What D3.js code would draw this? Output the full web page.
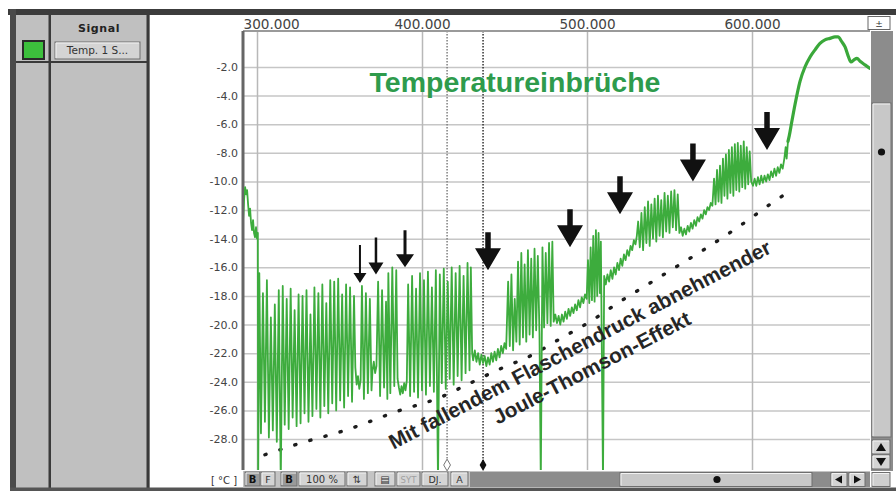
<!DOCTYPE html>
<html>
<head>
<meta charset="utf-8">
<script src="https://cdn.jsdelivr.net/npm/d3@7"></script>
<style>
  body { margin: 0; background: #fff; }
  svg { display: block; }
</style>
</head>
<body>
<div id="chart"></div>
<script>
// signal: [samples / 1000, temperature in °C]
var startSeg = [[291.6,-12.6],[292.2,-11.2],[292.8,-10.4],[293.4,-10.9],[294.0,-10.6],[294.6,-11.6],[295.2,-12.4],[295.8,-11.9],
    [296.4,-12.9],[297.0,-13.4],[297.6,-12.7],[298.2,-13.6],[298.8,-13.9],[299.4,-13.2],[300.0,-14.0],[300.5,-13.6],[300.7,-31.0]];

var burst1 = [[301.4,-16.4],[302.4,-27.6],[303.6,-17.8],[304.8,-26.8],[306.0,-16.9],[307.2,-27.9],[308.4,-19.5],[309.6,-27.4],
    [310.8,-18.6],[312.0,-28.2],[313.2,-17.6],[314.4,-31.0],[315.6,-17.3],[316.8,-27.0],[318.0,-18.2],[319.2,-27.3],[320.4,-17.5],
    [321.6,-26.5],[322.8,-19.0],[324.0,-27.1],[325.2,-17.9],[326.4,-26.9],[327.6,-18.0],[328.8,-26.2],[330.0,-17.6],[331.2,-26.8],
    [332.4,-19.3],[333.6,-26.4],[334.8,-17.4],[336.0,-25.9],[337.2,-17.8],[338.4,-26.5],[339.6,-17.2],[340.8,-25.7],[342.0,-18.5],
    [343.2,-26.2],[344.4,-16.9],[345.6,-25.5],[346.8,-17.0],[348.0,-26.0],[349.2,-16.8],[350.4,-25.3],[351.6,-17.9],[352.8,-25.8],
    [354.0,-17.2],[355.2,-25.0],[356.4,-17.4],[357.6,-25.4],[358.8,-18.0],
    [359.6,-23.0],[360.4,-24.2],[361.2,-23.6],[362.0,-24.5],[362.8,-23.9],
    [363.6,-17.3],[364.8,-25.2],[366.0,-17.8],[367.2,-24.8],[368.4,-18.2],[369.4,-24.6],
    [370.0,-23.2],[370.8,-22.6],[371.6,-23.4],[372.4,-22.9],
    [373.4,-17.0],[374.6,-25.0],[375.8,-17.6],[377.0,-24.4],[378.2,-18.4],[379.0,-25.2],[379.6,-16.4],[380.8,-24.8],[382.0,-16.0],
    [383.2,-24.3],[384.4,-16.2],[385.2,-23.8],
    [386.0,-24.4],[386.8,-24.9],[387.6,-24.3],[388.4,-24.8],[389.2,-24.1],[390.0,-24.6],[390.8,-23.9]];

var burst1d = [[391.6,-17.2],[392.8,-25.0],[394.0,-16.6],[395.2,-24.7],[396.4,-17.5],[397.6,-25.1],[398.8,-16.4],[400.0,-24.6],
    [401.2,-16.9],[402.4,-24.9],[403.6,-16.3],[404.8,-24.3],[406.0,-17.4],[407.2,-24.7],[408.4,-16.2],[409.7,-31.0],[410.8,-16.5],
    [412.0,-24.1],[413.2,-16.1],[414.4,-24.5],[415.6,-17.0],[416.8,-23.8],[418.0,-16.0],[419.2,-24.2],[420.4,-16.4],[421.6,-23.6],
    [422.8,-15.9],[424.0,-23.9],[425.2,-16.6],[426.4,-23.4],[427.6,-15.7],[428.8,-23.2],[429.6,-16.0]];

var smoothC = [[430.4,-22.0],[431.0,-22.5],[432.0,-21.8],[433.0,-22.6],[434.0,-22.0],[435.0,-22.8],[436.0,-22.1],[437.0,-22.7],
    [438.0,-22.2],[439.0,-22.9],[440.0,-22.3],[441.0,-22.8],[442.0,-22.0],[443.0,-22.6],[444.0,-21.9],[445.0,-22.5],[446.0,-21.7],
    [447.0,-22.3],[448.0,-21.5],[449.0,-22.0],[450.0,-21.3],[451.0,-21.7]];

var burst2 = [[452.2,-17.0],[453.2,-21.5],[454.2,-16.5],[455.2,-21.8],[456.2,-18.2],[457.2,-21.2],[458.2,-15.6],[459.2,-21.4],
    [460.2,-15.0],[461.2,-20.9],[462.2,-15.8],[463.2,-21.2],[464.2,-14.8],[465.2,-20.7],[466.2,-15.4],[467.2,-20.9],[468.2,-14.7],
    [469.2,-20.4],[470.2,-15.2],[471.2,-20.6],[472.0,-31.0],[473.0,-14.6],[474.0,-20.2],[475.0,-15.0],[476.0,-19.9],[477.0,-14.3],
    [478.0,-20.1],[479.0,-14.2],[479.8,-19.8]];

var smoothD = [[480.8,-19.3],[481.8,-19.9],[482.8,-19.4],[483.8,-20.0],[484.8,-19.3],[485.8,-19.8],[486.8,-19.1],[487.8,-19.6],
    [488.8,-18.9],[489.8,-19.4],[490.8,-18.8],[491.8,-19.2],[492.8,-18.6],[493.8,-19.0],[494.8,-18.3],[495.8,-18.8],[496.8,-18.1],
    [497.8,-18.5],[498.8,-17.9],[499.8,-18.2]];

var burst3 = [[500.6,-15.5],[501.4,-18.5],[502.2,-14.6],[503.0,-18.3],[503.8,-13.8],[504.6,-18.4],[505.4,-13.4],[506.2,-18.0],
    [507.0,-13.6],[507.8,-17.8],[508.4,-14.2],[509.7,-31.0]];

var smoothE = [[510.4,-16.6],[511.4,-17.2],[512.4,-16.5],[513.4,-17.0],[514.4,-16.2],[515.4,-16.8],[516.4,-16.0],[517.4,-16.5],
    [518.4,-15.7],[519.4,-16.2],[520.4,-15.4],[521.4,-15.9],[522.4,-15.1],[523.4,-15.5],[524.4,-14.8],[525.4,-15.2],[526.4,-14.5],
    [527.4,-14.8],[528.4,-14.1],[529.4,-14.4],[530.2,-13.8]];

var burst4 = [[531.0,-12.8],[532.0,-14.6],[533.0,-12.2],[534.0,-14.8],[535.0,-11.8],[536.0,-14.3],[537.0,-11.4],[538.0,-14.5],
    [539.0,-11.6],[540.0,-14.0],[541.0,-11.2],[542.0,-14.2],[543.0,-11.0],[544.0,-13.8],[545.0,-11.3],[546.0,-13.9],[547.0,-10.8],
    [548.0,-13.5],[549.0,-11.0],[550.0,-13.6],[551.0,-10.7],[552.0,-13.2],[553.0,-10.6],[554.0,-13.4],[555.0,-10.9],[556.0,-13.6]];

var smoothF = [[557.0,-13.2],[558.0,-13.8],[559.0,-13.3],[560.0,-13.7],[561.0,-13.1],[562.0,-13.5],[563.0,-12.9],[564.0,-13.3],
    [565.0,-12.7],[566.0,-13.1],[567.0,-12.5],[568.0,-12.8],[569.0,-12.3],[570.0,-12.6],[571.0,-12.0],[572.0,-12.3],[573.0,-11.8],
    [574.0,-12.0],[575.0,-11.5],[576.0,-11.7]];

var burst5 = [[577.0,-9.8],[577.9,-11.6],[578.8,-9.2],[579.7,-11.4],[580.6,-8.9],[581.5,-11.5],[582.4,-8.4],[583.3,-11.0],
    [584.2,-8.1],[585.1,-11.2],[586.0,-7.8],[586.9,-10.8],[587.8,-7.6],[588.7,-11.0],[589.6,-7.4],[590.5,-10.6],[591.4,-7.3],
    [592.3,-10.7],[593.2,-7.5],[594.1,-10.4],[595.0,-7.2],[595.9,-10.5],[596.8,-7.6],[597.7,-10.2],[598.6,-7.9],[599.5,-10.0]];

var smoothG = [[600.6,-10.3],[601.6,-9.8],[602.6,-10.3],[603.6,-9.7],[604.6,-10.2],[605.6,-9.6],[606.6,-10.1],[607.6,-9.6],
    [608.6,-10.0],[609.6,-9.5],[610.6,-9.9],[611.6,-9.3],[612.6,-9.7],[613.6,-9.1],[614.6,-9.6],[615.6,-9.0],[616.6,-9.4],
    [617.6,-8.8],[618.6,-9.1],[619.6,-8.4],[620.4,-7.6],[621.0,-8.4],[621.8,-7.2]];

var tailSeg = [[621.8,-7.2],[622.6,-6.8],[624.0,-5.9],[626.1,-4.6],[629.1,-3.0],[632.1,-2.0],[635.2,-1.3],[638.2,-0.8],
    [641.2,-0.35],[644.2,-0.1],[647.3,0.0],[650.3,0.1],[652.1,0.1],[654.5,-0.25],[656.4,-0.6],[658.2,-1.2],[660.0,-1.65],
    [661.8,-1.5],[663.6,-1.4],[665.5,-1.6],[668.5,-1.85],[671.5,-2.1]];

// dotted trend line under the signal
var trendX = [304.8, 326.1, 353.3, 386.7, 410.9, 429.1, 447.3, 465.5, 483.6, 501.8, 520.0, 538.2, 556.4, 574.5, 592.7, 610.9, 621.2];
var trendT = [-29.1, -28.3, -27.4, -26.0, -25.1, -24.1, -23.1, -22.2, -21.0, -19.8, -18.4, -17.1, -15.8, -14.5, -13.1, -11.6, -10.8];

// arrow tips (temperature drops)
var arrowX = [362.4, 372.1, 389.7, 440.0, 489.7, 520.0, 564.2, 609.1];
var arrowT = [-17.1, -16.5, -16.0, -16.2, -14.6, -12.3, -10.0, -7.8];

var cursorX = [415.2, 437.0];

var yTicks = [-2, -4, -6, -8, -10, -12, -14, -16, -18, -20, -22, -24, -26, -28];
var xTicks = [300, 400, 500, 600];

var titleText = "Temperatureinbrüche";
var noteLines = ["Mit fallendem Flaschendruck abnehmender", "Joule-Thomson-Effekt"];
var noteAt = [497.6, -21.85];

var W = 896, H = 491;
var plot = {left: 243, right: 870, top: 31, bottom: 470};

var x = d3.scaleLinear().domain([300, 600]).range([257, 752]);
var y = d3.scaleLinear().domain([-28, -2]).range([439, 67]);

var svg = d3.select("#chart").append("svg")
    .attr("width", W)
    .attr("height", H)
    .style("font-family", "DejaVu Sans, sans-serif");

svg.append("rect").attr("width", W).attr("height", H).attr("fill", "#fff");

svg.append("defs").append("clipPath").attr("id", "plotClip")
    .append("rect")
    .attr("x", plot.left + 1).attr("y", plot.top + 1)
    .attr("width", plot.right - plot.left - 1).attr("height", plot.bottom - plot.top - 1);

// grid + axes
var yAxis = svg.append("g")
    .attr("transform", "translate(" + plot.left + ",0)")
    .call(d3.axisLeft(y).tickValues(yTicks).tickSize(-(plot.right - plot.left)).tickPadding(5)
        .tickFormat(function (d) { return d.toFixed(1); }));
yAxis.select(".domain").remove();
yAxis.selectAll("line").attr("stroke", "#c6c6c6").attr("stroke-width", 1.5);
yAxis.selectAll("text")
    .attr("font-family", "DejaVu Sans")
    .attr("font-size", 11)
    .attr("fill", "#444");

var xAxis = svg.append("g")
    .attr("transform", "translate(0," + plot.top + ")")
    .call(d3.axisTop(x).tickValues(xTicks).tickSize(-(plot.bottom - plot.top)).tickPadding(2)
        .tickFormat(d3.format(".3f")));
xAxis.select(".domain").remove();
xAxis.selectAll("line").attr("stroke", "#b8b8b8").attr("stroke-width", 1.5);
xAxis.selectAll("text")
    .attr("font-family", "DejaVu Sans")
    .attr("font-size", 13.6)
    .attr("fill", "#444");
// first label does not fit left of its grid line
xAxis.selectAll(".tick text")
    .filter(function (d) { return x(d) - 28 < plot.left; })
    .attr("text-anchor", "start")
    .attr("x", function (d) { return plot.left - x(d); });

svg.append("line")
    .attr("x1", plot.left).attr("x2", plot.right)
    .attr("y1", plot.top).attr("y2", plot.top)
    .attr("stroke", "#9a9a9a").attr("stroke-width", 2);
svg.append("line")
    .attr("x1", plot.left).attr("x2", plot.left)
    .attr("y1", plot.top).attr("y2", plot.bottom)
    .attr("stroke", "#666").attr("stroke-width", 3);

var inner = svg.append("g").attr("clip-path", "url(#plotClip)");

// cursors
inner.selectAll(".cursor")
    .data(cursorX)
    .join("line")
    .attr("class", "cursor")
    .attr("x1", d => x(d)).attr("x2", d => x(d))
    .attr("y1", plot.top).attr("y2", 465)
    .attr("stroke", (d, i) => i === 0 ? "#777" : "#222")
    .attr("stroke-width", 1.4)
    .attr("stroke-dasharray", "1.5,1.5");

// dotted trend
var trend = trendX.map((d, i) => [d, trendT[i]]);
inner.append("path")
    .datum(trend)
    .attr("fill", "none")
    .attr("stroke", "#1c1c1c")
    .attr("stroke-width", 3.4)
    .attr("stroke-linecap", "round")
    .attr("stroke-dasharray", "1.2,14.5")
    .attr("d", d3.line().x(d => x(d[0])).y(d => y(d[1])).curve(d3.curveMonotoneX));

// signal
var signal = [].concat(startSeg, burst1, burst1d, smoothC, burst2, smoothD, burst3,
    smoothE, burst4, smoothF, burst5, smoothG);
var line = d3.line().x(d => x(d[0])).y(d => y(d[1]));

inner.append("path")
    .datum(signal)
    .attr("fill", "none")
    .attr("stroke", "#3dac3d")
    .attr("stroke-width", 1.8)
    .attr("stroke-linejoin", "round")
    .attr("d", line);

inner.append("path")
    .datum(tailSeg)
    .attr("fill", "none")
    .attr("stroke", "#3aa83a")
    .attr("stroke-width", 3.2)
    .attr("stroke-linecap", "round")
    .attr("d", line.curve(d3.curveMonotoneX));

// arrows: first three are the thin ones
function arrowPath(tx, ty, s) {
    return "M" + (tx - s.w / 2) + "," + (ty - s.len) +
        "L" + (tx + s.w / 2) + "," + (ty - s.len) +
        "L" + (tx + s.w / 2) + "," + (ty - s.hh) +
        "L" + (tx + s.hw / 2) + "," + (ty - s.hh) +
        "L" + tx + "," + ty +
        "L" + (tx - s.hw / 2) + "," + (ty - s.hh) +
        "L" + (tx - s.w / 2) + "," + (ty - s.hh) + "Z";
}
var arrowSize = function (i) {
    if (i === 0) return {len: 38, w: 2, hw: 13, hh: 10};
    if (i === 1) return {len: 37, w: 2.5, hw: 15, hh: 12};
    if (i === 2) return {len: 37, w: 3, hw: 18, hh: 13};
    return {len: 38, w: 5.5, hw: 26, hh: 22};
};
inner.selectAll(".arrow")
    .data(arrowX)
    .join("path")
    .attr("class", "arrow")
    .attr("fill", "#111")
    .attr("d", (d, i) => arrowPath(x(d), y(arrowT[i]), arrowSize(i)));

// cursor markers
svg.append("path")
    .attr("d", d3.symbol().type(d3.symbolDiamond).size(40)())
    .attr("transform", "translate(" + x(cursorX[0]) + ",465)")
    .attr("fill", "#fff").attr("stroke", "#777").attr("stroke-width", 1);
svg.append("path")
    .attr("d", d3.symbol().type(d3.symbolDiamond).size(40)())
    .attr("transform", "translate(" + x(cursorX[1]) + ",465)")
    .attr("fill", "#111");

// title + note
svg.append("text")
    .attr("x", 515).attr("y", 92)
    .attr("text-anchor", "middle")
    .attr("font-family", "Liberation Sans, Arial, sans-serif")
    .attr("font-weight", "bold")
    .attr("font-size", 28.5)
    .attr("fill", "#2e9b4c")
    .text(titleText);

var note = svg.append("g")
    .attr("transform", "translate(" + x(noteAt[0]) + "," + y(noteAt[1]) + ") rotate(-27.5)");
note.selectAll("text")
    .data(noteLines)
    .join("text")
    .attr("x", 0)
    .attr("y", (d, i) => i * 26)
    .attr("text-anchor", "middle")
    .attr("font-family", "Liberation Sans, Arial, sans-serif")
    .attr("font-weight", "bold")
    .attr("font-size", 20.8)
    .attr("fill", "#262626")
    .text(d => d);

// window chrome
var ui = svg.append("g");
ui.append("rect").attr("x", 16).attr("y", 15).attr("width", 134).attr("height", 473).attr("fill", "#c0c0c0");
ui.append("rect").attr("x", 48.5).attr("y", 15).attr("width", 2.5).attr("height", 473).attr("fill", "#3a3a3a");
ui.append("rect").attr("x", 146.5).attr("y", 15).attr("width", 3).attr("height", 473).attr("fill", "#3a3a3a");
ui.append("rect").attr("x", 16).attr("y", 61).attr("width", 132).attr("height", 2).attr("fill", "#3a3a3a");
ui.append("rect").attr("x", 8).attr("y", 9).attr("width", 888).attr("height", 6).attr("fill", "#3c3c3c");
ui.append("rect").attr("x", 10).attr("y", 9).attr("width", 6).attr("height", 482).attr("fill", "#4a4a4a");
ui.append("rect").attr("x", 10).attr("y", 487.5).attr("width", 886).attr("height", 3.5).attr("fill", "#555");

ui.append("text").attr("x", 99).attr("y", 32).attr("text-anchor", "middle")
    .attr("font-weight", "bold").attr("font-size", 11).attr("letter-spacing", 0.6).attr("fill", "#222")
    .text("Signal");
ui.append("rect").attr("x", 23).attr("y", 41).attr("width", 21).attr("height", 18)
    .attr("fill", "#3cc03c").attr("stroke", "#2a2a2a").attr("stroke-width", 2);

function button(x0, y0, w, h, label, opt) {
    opt = opt || {};
    ui.append("rect").attr("x", x0).attr("y", y0).attr("width", w).attr("height", h)
        .attr("fill", opt.fill || "#d4d4d4").attr("stroke", "#6e6e6e").attr("stroke-width", 1);
    ui.append("path")
        .attr("d", "M" + (x0 + 1) + "," + (y0 + h - 1) + "V" + (y0 + 1) + "H" + (x0 + w - 1))
        .attr("fill", "none").attr("stroke", "#f2f2f2").attr("stroke-width", 1);
    if (label) {
        ui.append("text").attr("x", x0 + w / 2).attr("y", y0 + h / 2 + 3.6).attr("text-anchor", "middle")
            .attr("font-size", opt.size || 10).attr("font-weight", opt.bold ? "bold" : "normal")
            .attr("fill", opt.color || "#333").text(label);
    }
}
button(55, 42, 85, 17, "Temp. 1 S...", {size: 10.5});

// bottom toolbar
ui.append("rect").attr("x", 243).attr("y", 471).attr("width", 627).attr("height", 16.5).attr("fill", "#c4c4c4");
ui.append("text").attr("x", 224).attr("y", 484).attr("text-anchor", "middle")
    .attr("font-size", 10).attr("fill", "#333").text("[ °C ]");
button(245, 472, 15, 14, "B", {bold: true, fill: "#9a9a9a", color: "#111"});
button(261, 472, 14, 14, "F", {size: 9.5});
button(281, 472, 16, 14, "B", {bold: true, fill: "#9a9a9a", color: "#111"});
button(299, 472, 46, 14, "100 %", {size: 10});
button(347, 472, 20, 14, "⇅", {size: 10});
button(375, 472, 20, 14, "▤", {size: 10});
button(397, 472, 23, 14, "SYT", {size: 8.5, color: "#a0a0a0"});
button(422, 472, 26, 14, "DJ.", {size: 9.5});
button(451, 472, 17, 14, "A", {size: 9.5});
ui.append("rect").attr("x", 470).attr("y", 472).attr("width", 400).attr("height", 15).attr("fill", "#8c8c8c");
button(620, 472.5, 192, 14, null, {fill: "#c8c8c8"});
ui.append("circle").attr("cx", 717).attr("cy", 479.5).attr("r", 3.6).attr("fill", "#111");
button(831, 472.5, 16, 14, null);
button(849, 472.5, 16, 14, null);
ui.append("path").attr("d", "M835,479.5L842,475.5V483.5Z").attr("fill", "#111");
ui.append("path").attr("d", "M861,479.5L854,475.5V483.5Z").attr("fill", "#111");
button(872, 472.5, 18, 14, null, {fill: "#cfcfcf"});

// right scrollbar
ui.append("rect").attr("x", 871).attr("y", plot.top).attr("width", 22).attr("height", 440).attr("fill", "#8c8c8c");
button(872, 103, 19, 334, null, {fill: "#c8c8c8"});
ui.append("circle").attr("cx", 881.5).attr("cy", 152).attr("r", 3.6).attr("fill", "#111");
button(872, 440, 18, 14, null);
button(872, 455, 18, 14, null);
ui.append("path").attr("d", "M881,443L886,451H876Z").attr("fill", "#111");
ui.append("path").attr("d", "M881,466L886,458H876Z").attr("fill", "#111");

ui.append("rect").attr("x", 868).attr("y", 16.5).attr("width", 22).attr("height", 13)
    .attr("fill", "#fff").attr("stroke", "#666");
ui.append("text").attr("x", 879).attr("y", 27).attr("text-anchor", "middle")
    .attr("font-size", 9).attr("fill", "#333").text("±");
</script>
</body>
</html>
